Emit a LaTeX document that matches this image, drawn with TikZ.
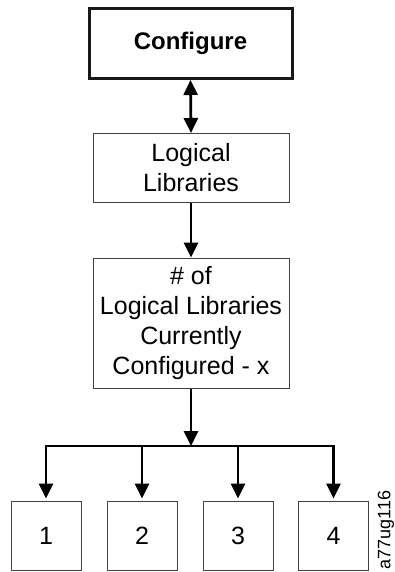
\documentclass[tikz,border=0pt]{standalone}
\usepackage{fontspec}
\setmainfont{Liberation Sans}
\usetikzlibrary{arrows.meta}
\begin{document}
\begin{tikzpicture}[x=1pt,y=-1pt,
  box/.style={draw=black!75,line width=1pt,inner sep=0pt,align=center,font=\fontsize{25}{30}\selectfont},
  tip/.tip={Triangle[width=14pt,length=15pt]},
  arr/.style={line width=2.8pt,-tip},
]
\useasboundingbox[fill=white] (0,0) rectangle (395,572);
\node[box,draw=black!90,line width=3pt,minimum width=203pt,minimum height=70pt,
      font=\bfseries\fontsize{24}{29}\selectfont] (conf) at (190.5,43.5) {Configure};
\node[box,minimum width=196pt,minimum height=69pt] (ll) at (191,168) {Logical\\Libraries};
\node[box,minimum width=196pt,minimum height=130pt] (num) at (191,323)
  {\# of\\Logical Libraries\\Currently\\Configured - x};
\coordinate (j) at (191,446);
\foreach \i/\x in {1/46,2/142,3/238,4/333.5}{
  \node[box,minimum width=70pt,minimum height=69pt] (b\i) at (\x,535.5) {\i};
  \coordinate (t\i) at (\x,446);
}
\draw[line width=2.8pt,tip-tip] (conf.south) -- (ll.north);
\draw[arr] (ll.south) -- (num.north);
\draw[arr] (num.south) -- (j);
\draw[line width=2.8pt,line cap=rect] (t1) -- (t4);
\foreach \i in {1,2,3,4}{
  \draw[arr,shorten >=2pt] (t\i) -- (b\i.north);
}
\node[rotate=90,font=\fontsize{18}{18}\selectfont,inner sep=0pt] (lab) at (386,530) {a77ug116};
\end{tikzpicture}
\end{document}
